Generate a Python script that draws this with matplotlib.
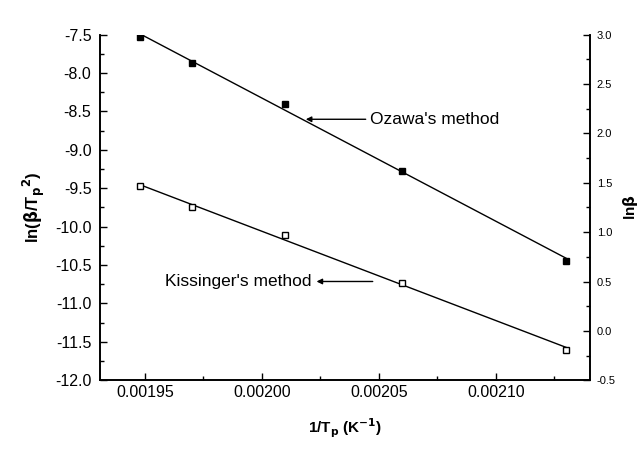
import numpy as np
import matplotlib.pyplot as plt
from matplotlib.ticker import MultipleLocator, FormatStrFormatter

plt.rcParams['font.family'] = ['Liberation Sans', 'DejaVu Sans']

# 1/Tp [1/K]
invT = [0.001948, 0.00197, 0.00201, 0.00206, 0.00213]
# Kissinger: ln(beta/Tp^2)
kissinger = [-9.47, -9.75, -10.11, -10.74, -11.60]
# Ozawa: ln(beta)
ozawa = [2.98, 2.71, 2.30, 1.62, 0.71]

fig = plt.figure(figsize=(6.44, 4.5), dpi=100)
ax = fig.add_axes([0.155, 0.155, 0.761, 0.768])
ax2 = ax.twinx()

x = np.array(invT)
xfit = np.array([x.min(), x.max()])

# Kissinger on left axis
pk = np.polyfit(x, kissinger, 1)
ax.plot(xfit, np.polyval(pk, xfit), color='k', lw=1.0)
ax.plot(x, kissinger, 's', mfc='white', mec='k', ms=5, mew=1.0)

# Ozawa on right axis
po = np.polyfit(x, ozawa, 1)
ax2.plot(xfit, np.polyval(po, xfit), color='k', lw=1.0)
ax2.plot(x, ozawa, 's', mfc='k', mec='k', ms=5)

ax.set_xlim(0.0019308, 0.0021402)
ax.set_ylim(-12.0, -7.5)
ax2.set_ylim(-0.5, 3.0)

ax.xaxis.set_major_locator(MultipleLocator(0.00005))
ax.xaxis.set_minor_locator(MultipleLocator(0.000025))
ax.xaxis.set_major_formatter(FormatStrFormatter('%.5f'))
ax.yaxis.set_major_locator(MultipleLocator(0.5))
ax.yaxis.set_minor_locator(MultipleLocator(0.25))
ax.yaxis.set_major_formatter(FormatStrFormatter('%.1f'))
ax2.yaxis.set_major_locator(MultipleLocator(0.5))
ax2.yaxis.set_minor_locator(MultipleLocator(0.25))
ax2.yaxis.set_major_formatter(FormatStrFormatter('%.1f'))

for a in (ax, ax2):
    a.spines['top'].set_visible(False)
    for s in a.spines.values():
        s.set_linewidth(1.2)
    a.tick_params(which='both', direction='in', labelsize=11.5, width=1.0)
    a.tick_params(which='major', length=5)
    a.tick_params(which='minor', length=3)
ax.tick_params(axis='y', pad=6)
ax2.tick_params(axis='y', pad=5, labelsize=8)

ax.set_xlabel(r'1/T$_\mathbf{p}$ (K$^\mathbf{-1}$)', fontsize=11, fontweight='bold', labelpad=12)
ax.set_ylabel(r'ln($\mathbf{\beta}$/T$_\mathbf{p}$$^\mathbf{2}$)', fontsize=12, fontweight='bold', labelpad=6)
ax2.set_ylabel(r'ln$\mathbf{\beta}$', fontsize=11, fontweight='bold', rotation=90, labelpad=4)

# method labels with arrows
arrow = dict(arrowstyle='-|>', color='k', lw=1.0, mutation_scale=8, shrinkA=0, shrinkB=0)
ax2.annotate("", xy=(0.0020188, 2.143), xytext=(0.0020444, 2.143), arrowprops=arrow)
ax2.text(0.0020462, 2.143, "Ozawa's method", fontsize=12.5, va='center', ha='left')
ax.annotate("", xy=(0.0020234, -10.714), xytext=(0.0020474, -10.714), arrowprops=arrow)
ax.text(0.0020212, -10.714, "Kissinger's method", fontsize=12.5, va='center', ha='right')

fig.savefig('out.png', dpi=100)
